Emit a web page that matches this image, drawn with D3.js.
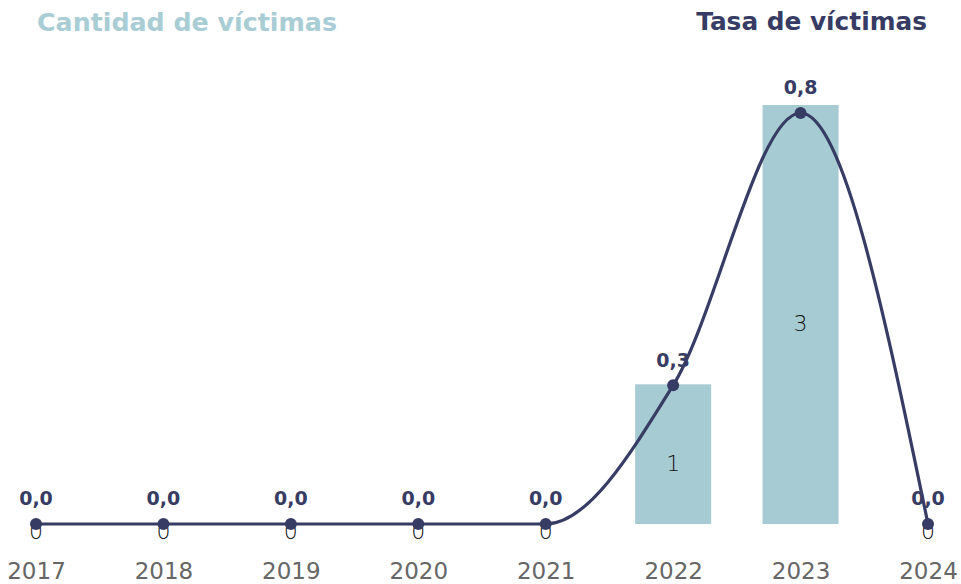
<!DOCTYPE html>
<html><head><meta charset="utf-8">
<script src="https://cdn.jsdelivr.net/npm/d3@7"></script>
<style>body{margin:0;background:#fff}</style>
</head><body><svg id="c" width="961" height="584"></svg>
<script>
const years = ["2017","2018","2019","2020","2021","2022","2023","2024"];
const counts = [0,0,0,0,0,1,3,0];
const rates = [0,0,0,0,0,0.27,0.8,0];
const titleLeft = "Cantidad de víctimas";
const titleRight = "Tasa de víctimas";

const svg = d3.select("#c");
const font = "'DejaVu Sans', sans-serif";
const navy = "#363c63", teal = "#a7cbd2";

const x = d3.scalePoint().domain(years).range([36, 928]);
const yBar = d3.scaleLinear().domain([0,3]).range([524,105]);
const yLine = d3.scaleLinear().domain([0,0.8]).range([524,113]);
const bw = 76;

const data = years.map((y,i)=>({year:y,count:counts[i],rate:rates[i]}));

// bars
svg.selectAll("rect.bar").data(data.filter(d=>d.count>0)).join("rect")
  .attr("x", d=>x(d.year)-bw/2).attr("width", bw)
  .attr("y", d=>yBar(d.count)).attr("height", d=>yBar(0)-yBar(d.count))
  .attr("fill", teal);

// bar labels
svg.selectAll("text.cnt").data(data).join("text")
  .attr("x", d=>x(d.year))
  .attr("y", d=>d.count>0 ? (yBar(d.count)+yBar(0))/2 + 8.5 : yBar(0)+7.5)
  .attr("dy","0.36em")
  .attr("text-anchor","middle")
  .attr("font-family", font).attr("font-weight", 300).attr("font-size", 22).attr("fill","#111")
  .text(d=>d.count);

// line
const line = d3.line().x(d=>x(d.year)).y(d=>yLine(d.rate)).curve(d3.curveMonotoneX);
svg.append("path").datum(data).attr("d", line)
  .attr("fill","none").attr("stroke", navy).attr("stroke-width", 3.2);
svg.selectAll("circle").data(data).join("circle")
  .attr("cx", d=>x(d.year)).attr("cy", d=>yLine(d.rate)).attr("r", 6).attr("fill", navy);

const fmt = v => d3.format(".1f")(v).replace(".", ",");
svg.selectAll("text.rate").data(data).join("text")
  .attr("x", d=>x(d.year)).attr("y", d=>yLine(d.rate)-25.5)
  .attr("dy","0.36em")
  .attr("text-anchor","middle")
  .attr("font-family", font).attr("font-weight", 700).attr("font-size", 19).attr("fill", navy)
  .text(d=>fmt(d.rate));

// x axis labels
const ax = svg.append("g").attr("transform","translate(0,570.5)")
  .call(d3.axisBottom(x).tickSize(0).tickPadding(0));
ax.select(".domain").remove();
ax.selectAll("text").attr("font-family", font).attr("font-size", 23).attr("fill","#666")
  .attr("dy","0.36em").attr("y",0);

// titles
svg.append("text").attr("x",37).attr("y",31).attr("font-family",font).attr("font-weight",700)
  .attr("font-size",25.3).attr("fill","#a8cdd4").text(titleLeft);
svg.append("text").attr("x",927).attr("y",30).attr("text-anchor","end").attr("font-family",font).attr("font-weight",700)
  .attr("font-size",24.8).attr("fill",navy).text(titleRight);
</script></body></html>
